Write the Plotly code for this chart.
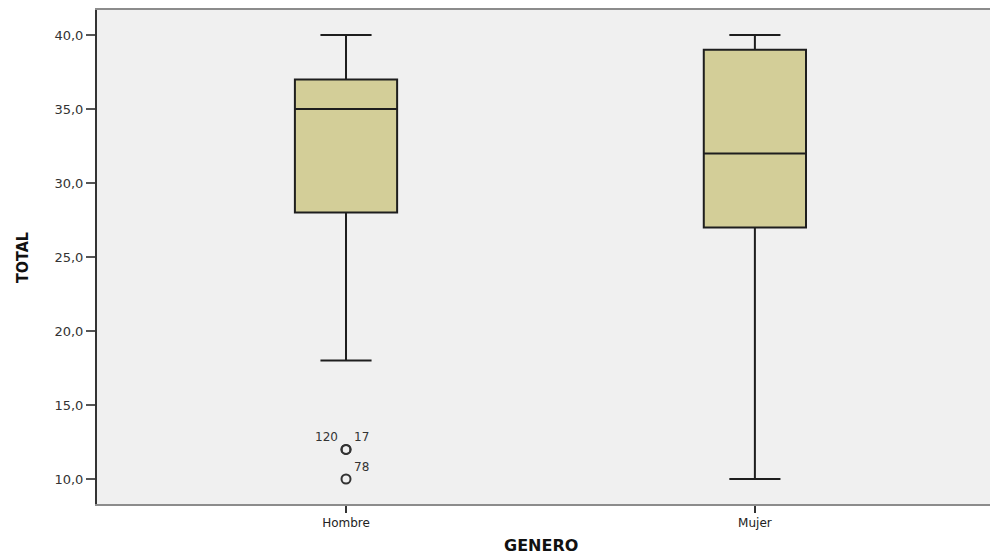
import plotly.graph_objects as go

categories = ["Hombre", "Mujer"]
q1 = [28, 27]
median = [35, 32]
q3 = [37, 39]
lower_whisker = [18, 10]
upper_whisker = [40, 40]

outlier_cat = [0, 0, 0]
outlier_val = [12, 12, 10]
outlier_ids = ["120", "17", "78"]

y_ticks = [10, 15, 20, 25, 30, 35, 40]
y_ticktext = ["10,0", "15,0", "20,0", "25,0", "30,0", "35,0", "40,0"]

fig = go.Figure()
fig.add_trace(go.Box(
    x=[0, 1],
    q1=q1, median=median, q3=q3,
    lowerfence=lower_whisker, upperfence=upper_whisker,
    width=0.25, whiskerwidth=0.5,
    fillcolor="#D3CE98",
    line=dict(color="#1e1e1e", width=2),
    boxpoints=False, hoverinfo="skip", showlegend=False,
))
fig.add_trace(go.Scatter(
    x=outlier_cat, y=outlier_val, mode="markers",
    marker=dict(symbol="circle-open", size=9, color="#333333", line=dict(width=2)),
    showlegend=False, hoverinfo="skip",
))

# outlier id labels
offsets = {"120": (-6, "right"), "17": (6, "left"), "78": (6, "left")}
for cx, cy, lab in zip(outlier_cat, outlier_val, outlier_ids):
    dx, anchor = offsets[lab]
    fig.add_annotation(x=cx, y=cy, text=lab, showarrow=False, xanchor=anchor,
                       yanchor="middle", xshift=dx, yshift=12,
                       font=dict(family="DejaVu Sans", size=12, color="#333333"))

fig.add_annotation(xref="paper", yref="paper", x=-0.084, y=0.5, text="<b>TOTAL</b>",
                   textangle=-90, showarrow=False, xanchor="center", yanchor="middle",
                   font=dict(family="DejaVu Sans Condensed, Liberation Sans Narrow, Liberation Sans",
                             size=16, color="#111111"))
fig.add_annotation(xref="paper", yref="paper", x=0.497, y=-0.083, text="<b>GENERO</b>",
                   showarrow=False, xanchor="center", yanchor="middle",
                   font=dict(family="DejaVu Sans", size=16, color="#111111"))

fig.update_layout(
    width=990, height=555,
    margin=dict(l=97, r=0, t=10, b=51),
    paper_bgcolor="white", plot_bgcolor="#F0F0F0",
    font=dict(family="DejaVu Sans", size=13, color="#333333"),
)
fig.update_xaxes(
    range=[-0.609, 1.575], tickvals=[0, 1], ticktext=categories,
    showgrid=False, zeroline=False, showline=True, linecolor="#8c8c8c", linewidth=2,
    mirror=True, ticks="outside", ticklen=7, tickcolor="#333333", tickwidth=2,
    tickfont=dict(family="DejaVu Sans", size=12, color="#222222"),
)
fig.update_yaxes(
    range=[8.31, 41.69], tickvals=y_ticks, ticktext=y_ticktext,
    showgrid=False, zeroline=False, showline=True, linecolor="#333333", linewidth=2,
    ticks="outside", ticklen=9, tickcolor="#555555", tickwidth=2,
    tickfont=dict(family="DejaVu Sans", size=13, color="#333333"),
)

fig.write_html("out.html", config={"displayModeBar": False},
               post_script="document.body.style.margin='0';")
